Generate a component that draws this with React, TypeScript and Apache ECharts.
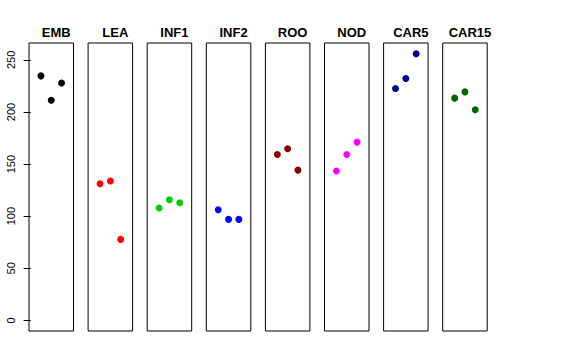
import React, { useEffect, useRef } from "react";
import * as echarts from "echarts";

const groups = ["EMB", "LEA", "INF1", "INF2", "ROO", "NOD", "CAR5", "CAR15"];
const colors = ["#000000", "#FF0000", "#00CD00", "#0000FF", "#8B0000", "#FF00FF", "#00008B", "#006400"];
const positions = [1, 2, 3];
const values: number[][] = [
  [234.7, 211.3, 227.9],
  [131.1, 133.7, 77.7],
  [107.8, 115.7, 112.9],
  [106.2, 96.9, 96.9],
  [159.2, 164.7, 144.2],
  [143.3, 159.2, 171.1],
  [222.5, 232.1, 256.0],
  [213.3, 219.3, 202.1],
];
const yTicks = [0, 50, 100, 150, 200, 250];

export default function App() {
  const ref = useRef<HTMLDivElement>(null);
  useEffect(() => {
    if (!ref.current) return;
    const chart = echarts.init(ref.current, null, { renderer: "svg" });
    const left0 = 29;
    const step = 59.1;
    const w = 44.5;
    const top = 43;
    const h = 288;
    const ymin = -10.24;
    const ymax = 266.24;
    const grid = groups.map((_, i) => ({
      left: left0 + step * i,
      top,
      width: w,
      height: h,
      show: true,
      borderColor: "#000",
      borderWidth: 1,
      backgroundColor: "transparent",
      containLabel: false,
    }));
    const xAxis = groups.map((_, i) => ({
      type: "value",
      gridIndex: i,
      min: -0.16,
      max: 4.16,
      show: false,
    }));
    const yAxis = groups.map((_, i) => ({
      type: "value",
      gridIndex: i,
      min: ymin,
      max: ymax,
      show: i === 0,
      splitLine: { show: false },
      axisLine: { show: false },
      axisTick: {
        show: i === 0,
        length: 7,
        customValues: yTicks,
        lineStyle: { color: "#000", width: 1 },
      },
      axisLabel: {
        show: i === 0,
        customValues: yTicks,
        rotate: 90,
        margin: 13,
        fontSize: 11,
        fontFamily: "Liberation Sans, Arial, sans-serif",
        color: "#000",
      },
    }));
    const title = groups.map((g, i) => ({
      text: g,
      left: left0 + step * i + w / 2,
      top: 21,
      textAlign: "center",
      textStyle: {
        fontSize: 13,
        fontWeight: "bold",
        fontFamily: "Liberation Sans, Arial, sans-serif",
        color: "#000",
      },
    }));
    const series = groups.map((g, i) => ({
      type: "scatter",
      name: g,
      xAxisIndex: i,
      yAxisIndex: i,
      symbol: "circle",
      symbolSize: 7,
      itemStyle: { color: colors[i], opacity: 1 },
      data: positions.map((p, j) => [p, values[i][j]]),
    }));
    chart.setOption({
      animation: false,
      backgroundColor: "#fff",
      title,
      grid,
      xAxis,
      yAxis,
      series,
    });
    return () => chart.dispose();
  }, []);
  return (
    <div
      ref={ref}
      style={{ position: "fixed", left: 0, top: 0, width: 576, height: 360 }}
    />
  );
}
